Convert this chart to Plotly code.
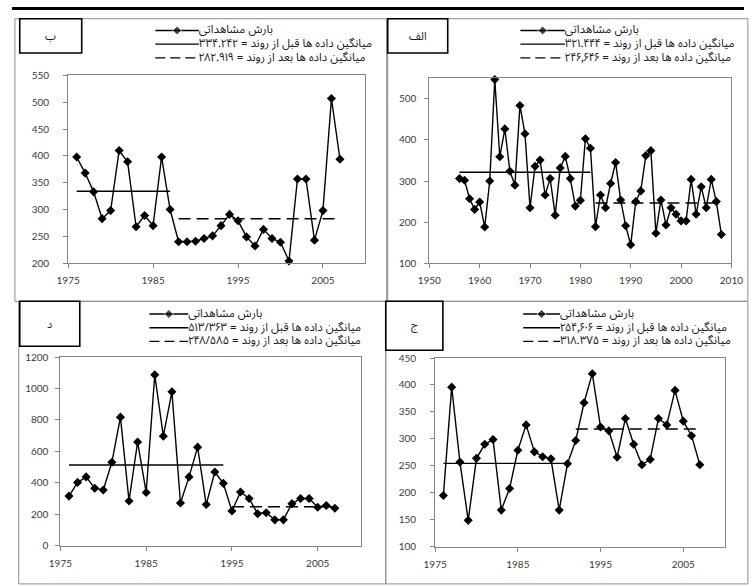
import plotly.graph_objects as go

# ---------------------------------------------------------------- data
# panel "ب"
YEARS_B = list(range(1976, 2008))
RAIN_B = [398, 368, 333, 283, 298, 410, 389, 268, 289, 270, 398, 300,
          240, 240, 241, 246, 251, 270, 291, 279, 249, 232, 263, 246,
          239, 204, 357, 357, 243, 298, 507, 394]
BREAK_B = 1987
MEAN_BEFORE_B = 334.242
MEAN_AFTER_B = 282.919

# panel "الف"
YEARS_ALEF = list(range(1956, 2009))
RAIN_ALEF = [306, 302, 257, 231, 249, 188, 300, 547, 359, 427, 324, 290,
             484, 415, 235, 336, 351, 266, 306, 217, 332, 360, 306, 239,
             253, 403, 380,
             189, 266, 235, 294, 345, 254, 191, 145, 250, 276, 362, 374,
             173, 254, 193, 235, 219, 203, 203, 304, 219, 286, 235, 304,
             250, 170]
BREAK_ALEF = 1982
MEAN_BEFORE_ALEF = 321.444
MEAN_AFTER_ALEF = 246.646

# panel "د"
YEARS_DAL = list(range(1976, 2008))
RAIN_DAL = [316, 403, 438, 366, 355, 531, 818, 285, 660, 339, 1087, 697,
            979, 272, 438, 627, 262, 469, 397,
            221, 342, 301, 204, 210, 165, 165, 268, 301, 301, 245, 256, 239]
BREAK_DAL = 1994
MEAN_BEFORE_DAL = 513.363
MEAN_AFTER_DAL = 248.585

# panel "ج"
YEARS_JIM = list(range(1976, 2008))
RAIN_JIM = [195, 396, 257, 149, 264, 290, 299, 168, 208, 279, 326, 276,
            267, 263, 168, 254,
            297, 367, 421, 322, 315, 266, 338, 290, 252, 262, 338, 326,
            390, 333, 306, 252]
BREAK_JIM = 1991
MEAN_BEFORE_JIM = 254.606
MEAN_AFTER_JIM = 318.375

OBSERVED_LABEL = "بارش مشاهداتی"
BEFORE_LABEL = "میانگین داده ها قبل از روند = "
AFTER_LABEL = "میانگین داده ها بعد از روند = "

# ------------------------------------------------------------- layout
W, H = 756, 586
FA_DIGITS = str.maketrans("0123456789", "۰۱۲۳۴۵۶۷۸۹")


def fa_number(value, sep):
    return f"{value:.3f}".replace(".", sep).translate(FA_DIGITS)


def fx(px):
    return px / W


def fy(px):
    return 1 - px / H


PANELS = [
    dict(title="ب", years=YEARS_B, rain=RAIN_B, brk=BREAK_B,
         m0=MEAN_BEFORE_B, m1=MEAN_AFTER_B, sep0=".", sep1=".",
         xrange=[1975, 2010], xdtick=10, yrange=[200, 550], ydtick=50,
         plot=(58, 70, 365, 262), frame=(3, 12, 387, 301),
         box=(8, 12, 72, 47), legend=(148, 193, (24, 38, 52)),
         ystand=12),
    dict(title="الف", years=YEARS_ALEF, rain=RAIN_ALEF, brk=BREAK_ALEF,
         m0=MEAN_BEFORE_ALEF, m1=MEAN_AFTER_ALEF, sep0=".", sep1="٫",
         xrange=[1950, 2010], xdtick=10, yrange=[100, 550], ydtick=100,
         plot=(431, 73, 743, 262), frame=(388, 12, 756, 301),
         box=(388, 12, 450, 47), legend=(525, 571, (24, 38, 52)),
         ystand=6),
    dict(title="د", years=YEARS_DAL, rain=RAIN_DAL, brk=BREAK_DAL,
         m0=MEAN_BEFORE_DAL, m1=MEAN_AFTER_DAL, sep0="/", sep1="/",
         xrange=[1975, 2010], xdtick=10, yrange=[0, 1200], ydtick=200,
         plot=(50, 358, 360, 551), frame=(7, 301, 386, 586),
         box=(8, 301, 70, 347), legend=(142, 182, (314, 328, 342)),
         ystand=5),
    dict(title="ج", years=YEARS_JIM, rain=RAIN_JIM, brk=BREAK_JIM,
         m0=MEAN_BEFORE_JIM, m1=MEAN_AFTER_JIM, sep0="٫", sep1=".",
         xrange=[1975, 2010], xdtick=10, yrange=[100, 450], ydtick=50,
         plot=(437, 359, 736, 552), frame=(386, 301, 756, 586),
         box=(386, 301, 445, 351), legend=(528, 566, (314, 328, 342)),
         ystand=12),
]

AXIS_GREY = "#868686"
FRAME_GREY = "#8c8c8c"
TICK_FONT = dict(family="Lato, Open Sans, sans-serif", size=10, color="#3a3a3a")
FA_FAMILY = "Noto Sans Arabic UI, Noto Sans Arabic, DejaVu Sans, sans-serif"
FA_FONT = dict(family=FA_FAMILY, size=11.5, color="#1a1a1a")
MEAN_DASH = "12px,6px"

fig = go.Figure()
layout = dict(
    width=W, height=H, margin=dict(l=0, r=0, t=0, b=0),
    paper_bgcolor="white", plot_bgcolor="rgba(0,0,0,0)", showlegend=False,
    shapes=[], annotations=[],
)

n = len(PANELS)
for i, p in enumerate(PANELS):
    k = i + 1
    kf = i + 1 + n
    xa, ya = f"x{k}", f"y{k}"
    xf, yf = f"x{kf}", f"y{kf}"

    # data axes
    x0, y0, x1, y1 = p["plot"]
    layout[f"xaxis{k}"] = dict(
        domain=[fx(x0), fx(x1)], range=p["xrange"], tick0=p["xrange"][0],
        dtick=p["xdtick"], anchor=ya, showgrid=False, zeroline=False,
        showline=True, linecolor=AXIS_GREY, linewidth=1, mirror=True,
        ticks="outside", ticklen=4, tickcolor=AXIS_GREY, tickfont=TICK_FONT,
        ticklabelstandoff=4, fixedrange=True)
    layout[f"yaxis{k}"] = dict(
        domain=[fy(y1), fy(y0)], range=p["yrange"], tick0=p["yrange"][0],
        dtick=p["ydtick"], anchor=xa, showgrid=False, zeroline=False,
        showline=True, linecolor=AXIS_GREY, linewidth=1, mirror=True,
        ticks="outside", ticklen=4, tickcolor=AXIS_GREY, tickfont=TICK_FONT,
        ticklabelstandoff=p["ystand"], fixedrange=True)

    # observed rainfall
    fig.add_trace(go.Scatter(
        x=p["years"], y=p["rain"], mode="lines+markers", xaxis=xa, yaxis=ya,
        line=dict(color="black", width=1.4),
        marker=dict(symbol="diamond", size=7, color="black"),
        cliponaxis=False, hoverinfo="x+y"))

    # means before / after the change point
    yrs_before = [y for y in p["years"] if y <= p["brk"]]
    yrs_after = [y for y in p["years"] if y > p["brk"]]
    fig.add_trace(go.Scatter(
        x=[yrs_before[0], yrs_before[-1]], y=[p["m0"], p["m0"]],
        mode="lines", xaxis=xa, yaxis=ya,
        line=dict(color="black", width=1.4), hoverinfo="y"))
    fig.add_trace(go.Scatter(
        x=[yrs_after[0], yrs_after[-1]], y=[p["m1"], p["m1"]],
        mode="lines", xaxis=xa, yaxis=ya,
        line=dict(color="black", width=1.4, dash=MEAN_DASH), hoverinfo="y"))

    # panel frame axis in pixel units (clips the key text at the panel edge)
    fx0, fy0, fx1, fy1 = p["frame"]
    layout[f"xaxis{kf}"] = dict(domain=[fx(fx0), fx(fx1)], range=[fx0, fx1],
                                anchor=yf, visible=False, fixedrange=True)
    layout[f"yaxis{kf}"] = dict(domain=[fy(fy1), fy(fy0)], range=[fy1, fy0],
                                anchor=xf, visible=False, fixedrange=True)

    lx0, lx1, rows = p["legend"]
    lmid = (lx0 + lx1) / 2
    fig.add_trace(go.Scatter(
        x=[lx0, lmid, lx1], y=[rows[0]] * 3, mode="lines+markers",
        xaxis=xf, yaxis=yf, line=dict(color="black", width=1.4),
        marker=dict(symbol="diamond", size=[0, 7, 0], color="black"),
        hoverinfo="skip"))
    fig.add_trace(go.Scatter(
        x=[lx0, lx1], y=[rows[1]] * 2, mode="lines", xaxis=xf, yaxis=yf,
        line=dict(color="black", width=1.4), hoverinfo="skip"))
    fig.add_trace(go.Scatter(
        x=[lx0, lx1], y=[rows[2]] * 2, mode="lines", xaxis=xf, yaxis=yf,
        line=dict(color="black", width=1.4, dash="10px,5px"),
        hoverinfo="skip"))
    key_text = [OBSERVED_LABEL,
                BEFORE_LABEL + fa_number(p["m0"], p["sep0"]),
                AFTER_LABEL + fa_number(p["m1"], p["sep1"])]
    fig.add_trace(go.Scatter(
        x=[lx1] * 3, y=list(rows), mode="text", text=key_text,
        textposition="middle right", textfont=FA_FONT, cliponaxis=True,
        xaxis=xf, yaxis=yf, hoverinfo="skip"))

    # panel border and title box
    right_pad = 4 if fx1 >= W else 0
    bottom_pad = 4 if fy1 >= H else 0
    layout["shapes"].append(dict(
        type="rect", xref="paper", yref="paper", x0=fx(fx0),
        x1=fx(fx1 + right_pad), y0=fy(fy1 + bottom_pad), y1=fy(fy0),
        line=dict(color=FRAME_GREY, width=1), layer="below"))
    bx0, by0, bx1, by1 = p["box"]
    layout["shapes"].append(dict(
        type="rect", xref="paper", yref="paper", x0=fx(bx0), x1=fx(bx1),
        y0=fy(by1), y1=fy(by0), line=dict(color="black", width=1.6),
        layer="above"))
    layout["annotations"].append(dict(
        text=p["title"], xref="paper", yref="paper",
        x=fx((bx0 + bx1) / 2), y=fy((by0 + by1) / 2), showarrow=False,
        xanchor="center", yanchor="middle",
        font=dict(family=FA_FAMILY, size=11, color="#1a1a1a")))

# heavy rule along the top edge
layout["shapes"].append(dict(
    type="rect", xref="paper", yref="paper", x0=0, x1=1, y0=fy(3), y1=1,
    fillcolor="black", line=dict(width=0), layer="above"))

fig.update_layout(**layout)
fig.write_html("out.html")
